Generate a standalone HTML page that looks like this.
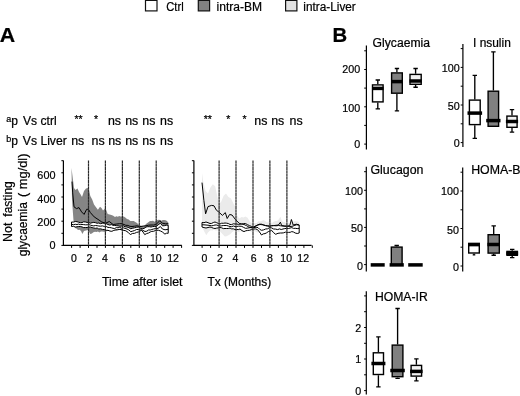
<!DOCTYPE html>
<html><head><meta charset="utf-8">
<style>
html,body{margin:0;padding:0;background:#fff;}
svg{display:block;font-family:"Liberation Sans",sans-serif;fill:#000;}
text{stroke:#000;stroke-width:0.22px;}
.t{font-size:12px}
.l{font-size:12.5px}
.ax{stroke:#000;stroke-width:1.2;fill:none}
.tk{stroke:#000;stroke-width:1;fill:none}
.ds{stroke:#2a2a2a;stroke-width:1.2;fill:none;stroke-dasharray:3 0.25}
.ln{stroke:#000;stroke-width:1;fill:none;stroke-linejoin:round}
.bx{stroke:#000;stroke-width:1.4}
.md{stroke:#000;stroke-width:3.5}
.wh{stroke:#000;stroke-width:1.35}
</style></head><body>
<svg width="520" height="396" viewBox="0 0 520 396">
<rect width="520" height="396" fill="#fff"/>
<rect x="145.5" y="0.4" width="11.5" height="10.5" fill="#fff" stroke="#111" stroke-width="1.2"/>
<text x="166.3" y="10.7" class="l" textLength="17.4" lengthAdjust="spacingAndGlyphs">Ctrl</text>
<rect x="198.3" y="0.4" width="11.3" height="10.5" fill="#808080" stroke="#111" stroke-width="1.2"/>
<text x="216.5" y="10.7" class="l" textLength="45.6" lengthAdjust="spacingAndGlyphs">intra-BM</text>
<rect x="285.6" y="0.4" width="11.3" height="10.5" fill="#e2e2e2" stroke="#111" stroke-width="1.2"/>
<text x="303.3" y="10.7" class="l" textLength="52.5" lengthAdjust="spacingAndGlyphs">intra-Liver</text>
<text transform="translate(-0.2,41.5) scale(1.05,1)" font-size="20.3" font-weight="bold">A</text>
<text x="332.4" y="41.6" font-size="20.3" font-weight="bold">B</text>
<text x="6.3" y="121.8" font-size="9">a</text><text x="11.3" y="124.6" class="t">p</text>
<text x="23" y="124.6" class="t" textLength="33.6" lengthAdjust="spacingAndGlyphs">Vs ctrl</text>
<text x="6.3" y="141.8" font-size="9">b</text><text x="11.3" y="144.7" class="t">p</text>
<text x="22.8" y="144.7" class="t" textLength="44" lengthAdjust="spacingAndGlyphs">Vs Liver</text>
<text x="74.4" y="123" font-size="10.5">**</text>
<text x="94" y="123" font-size="10.5">*</text>
<text x="203.7" y="123" font-size="10.5">**</text>
<text x="226.2" y="123" font-size="10.5">*</text>
<text x="242.5" y="123" font-size="10.5">*</text>
<text x="107.9" y="124.5" font-size="12.4">ns</text>
<text x="125.2" y="124.5" font-size="12.4">ns</text>
<text x="142.3" y="124.5" font-size="12.4">ns</text>
<text x="160.1" y="124.5" font-size="12.4">ns</text>
<text x="254.3" y="124.5" font-size="12.4">ns</text>
<text x="271.2" y="124.5" font-size="12.4">ns</text>
<text x="289.5" y="124.5" font-size="12.4">ns</text>
<text x="71.2" y="144.5" font-size="12.4">ns</text>
<text x="91.5" y="144.5" font-size="12.4">ns</text>
<text x="108.2" y="144.5" font-size="12.4">ns</text>
<text x="125.2" y="144.5" font-size="12.4">ns</text>
<text x="142.3" y="144.5" font-size="12.4">ns</text>
<text x="160.1" y="144.5" font-size="12.4">ns</text>
<polygon points="71.5,168.0 72.5,176.0 74.0,188.0 75.5,190.0 77.5,188.5 79.0,192.0 80.5,194.2 82.0,197.0 84.0,191.0 86.0,188.5 88.0,188.0 89.0,190.0 90.3,196.0 92.2,199.6 94.0,204.4 96.0,207.3 97.9,209.7 100.0,206.7 101.5,207.9 103.0,210.5 105.5,208.0 107.7,214.0 109.6,214.6 111.5,215.0 113.2,215.8 115.0,217.0 116.4,216.2 117.8,216.8 119.2,216.0 120.6,216.5 122.0,216.5 123.7,216.6 125.3,217.5 127.0,219.0 128.7,219.5 130.3,220.9 132.0,221.0 133.7,221.1 135.3,221.9 137.0,223.0 139.0,225.0 141.0,225.7 143.0,226.0 144.5,225.7 146.0,224.0 148.0,222.5 150.0,221.0 151.5,221.1 153.0,220.8 154.5,221.8 156.0,221.0 158.0,219.8 160.0,220.0 161.4,220.8 162.8,220.1 164.2,220.0 165.6,220.2 167.0,221.0 168.5,223.0 168.5,232.0 167.1,232.5 165.7,231.6 164.2,231.3 162.8,230.0 161.4,230.6 160.0,230.0 158.6,230.0 157.1,230.7 155.7,230.5 154.3,229.9 152.9,230.1 151.4,230.2 150.0,230.0 148.6,230.2 147.1,229.4 145.7,230.2 144.3,229.5 142.9,229.7 141.4,229.4 140.0,229.0 138.6,228.5 137.1,229.6 135.7,229.3 134.3,230.6 132.9,230.3 131.4,230.1 130.0,231.0 128.6,231.6 127.1,230.4 125.7,230.9 124.3,231.0 122.9,230.3 121.4,230.3 120.0,230.0 118.6,229.7 117.1,230.6 115.7,230.8 114.2,230.2 112.8,230.6 111.4,230.9 109.9,230.6 108.5,231.0 107.0,231.1 105.5,231.8 104.0,231.7 102.5,231.5 100.9,231.5 99.4,232.4 97.9,231.5 96.5,232.0 95.0,231.7 93.4,232.3 91.9,233.5 90.3,234.0 88.0,230.0 86.0,230.6 84.0,231.0 82.4,234.0 81.0,231.0 79.5,229.7 78.0,230.0 76.5,228.4 75.0,228.0 73.6,222.0 72.0,200.0" fill="#858585"/>
<polygon points="71.5,222.0 73.4,222.1 75.3,221.5 77.0,221.7 78.6,222.2 80.3,222.7 82.0,222.6 83.7,221.8 85.4,222.0 87.1,222.4 88.7,222.5 90.4,223.2 92.1,222.7 93.8,222.4 95.5,222.7 97.2,223.3 98.8,223.0 100.5,223.7 102.4,223.2 104.3,223.2 106.2,223.7 108.0,224.5 109.7,225.1 111.3,224.6 113.0,225.3 114.7,225.4 116.3,225.7 118.0,225.8 119.7,226.2 121.5,226.1 123.2,225.8 125.1,226.8 127.0,227.0 128.9,227.7 130.8,228.8 132.7,228.2 134.6,227.8 136.5,227.3 138.4,227.0 140.3,228.3 142.2,228.8 144.1,228.4 146.0,227.0 147.7,226.7 149.3,226.7 151.0,227.0 152.7,226.6 154.3,226.4 156.0,226.5 158.2,224.8 160.4,223.2 162.4,225.8 164.3,225.7 166.3,225.2 168.2,225.3 168.2,233.3 166.6,233.2 164.9,234.1 162.4,232.0 160.5,231.0 158.6,230.3 156.9,230.2 155.2,230.6 153.5,231.3 151.8,231.4 150.2,232.0 148.5,233.0 146.6,233.6 144.7,234.6 143.1,232.1 141.4,230.3 138.4,232.0 136.5,232.4 134.6,233.3 132.4,233.5 130.3,234.6 128.1,232.3 125.8,230.8 123.9,230.4 122.0,229.8 119.9,229.4 117.8,229.7 115.7,229.8 113.8,230.4 111.9,231.3 110.0,231.1 108.0,230.3 106.2,230.3 104.3,229.5 102.4,229.4 100.5,228.8 98.8,229.0 97.2,228.0 95.5,228.3 93.8,228.0 92.1,227.6 90.4,227.0 88.7,227.2 87.1,227.5 85.4,227.5 83.7,227.6 82.0,226.9 80.3,226.5 78.6,226.5 77.0,226.8 75.3,227.0 73.4,226.3 71.5,226.5" fill="#fff" stroke="#000" stroke-width="1"/>
<polyline class="ln" points="71.5,224.3 73.4,224.7 75.3,224.3 77.0,224.5 78.6,224.1 80.3,224.6 82.0,224.4 83.7,224.6 85.4,224.8 87.1,224.8 88.7,224.6 90.4,225.1 92.1,225.6 93.8,225.9 95.5,225.5 97.2,225.7 98.8,226.0 100.5,226.2 102.4,225.9 104.3,226.4 106.2,226.5 108.0,227.4 109.7,227.5 111.3,227.8 113.0,228.3 114.7,228.5 116.3,227.6 118.0,227.8 119.7,227.3 121.5,228.3 123.2,227.8 125.1,228.4 127.0,229.0 128.9,230.0 130.8,231.7 132.7,231.1 134.6,230.5 136.5,229.5 138.4,229.5 140.3,229.8 142.2,230.0 145.0,231.5 146.8,231.2 148.5,230.0 150.2,230.0 151.8,229.5 153.5,229.0 155.8,228.5 158.0,228.4 160.4,226.5 162.4,229.0 165.0,229.8 168.2,229.3"/>
<polyline class="ln" points="72.0,181.6 72.7,192.9 74.0,206.8 76.5,208.6 79.0,207.6 81.6,211.9 84.1,214.4 86.6,209.3 88.4,209.3 90.4,212.6 94.2,216.9 98.0,219.4 101.8,222.0 105.6,223.2 109.3,221.5 113.1,224.5 116.9,224.0 119.5,223.7 122.0,223.7 125.8,225.3 127.9,225.4 129.9,226.3 132.0,226.5 134.5,226.2 137.0,225.8 139.0,226.4 141.0,226.5 143.5,226.0 146.0,225.8 148.5,225.2 151.0,225.0 153.5,225.0 156.0,224.5 159.8,220.7 162.4,223.2 165.3,223.8 168.2,223.7" stroke-width="1.5"/>
<path class="ax" d="M63.4 160.4V245.4H181.8"/>
<path class="tk" d="M61.4 245.4H63.4M61.4 233.3H63.4M61.4 221.2H63.4M61.4 209.1H63.4M61.4 197.0H63.4M61.4 184.9H63.4M61.4 172.8H63.4M61.4 160.7H63.4M71.6 245.4V247.9M80.1 245.4V247.9M88.5 245.4V247.9M97.0 245.4V247.9M105.4 245.4V247.9M113.9 245.4V247.9M122.4 245.4V247.9M130.8 245.4V247.9M139.3 245.4V247.9M147.7 245.4V247.9M156.2 245.4V247.9M164.7 245.4V247.9M173.1 245.4V247.9M181.6 245.4V247.9"/>
<path class="ds" d="M88.5 160.4V245.4M105.4 160.4V245.4M122.4 160.4V245.4M139.3 160.4V245.4M156.2 160.4V245.4"/>
<polygon points="202.0,173.0 203.2,181.4 205.6,191.0 208.0,193.4 210.4,187.4 212.8,184.3 215.2,186.2 216.9,194.6 218.8,204.2 221.2,201.8 223.6,195.8 226.0,193.4 228.4,197.0 230.8,198.2 233.2,203.0 235.1,206.6 236.8,215.0 239.2,218.5 241.6,216.9 243.5,217.5 245.4,216.5 247.6,217.8 250.0,222.0 251.7,223.1 253.3,223.4 255.0,223.0 256.7,223.1 258.3,221.3 260.0,221.5 261.8,220.8 263.5,220.0 265.2,220.9 267.0,222.5 268.7,221.5 270.3,221.7 272.0,223.0 273.7,221.8 275.3,221.1 277.0,221.0 278.7,219.4 280.4,216.8 281.7,220.5 283.0,222.0 284.5,222.0 286.0,223.3 287.5,223.5 289.0,222.5 290.3,223.4 291.7,221.8 293.0,222.0 294.8,221.1 296.5,221.5 297.9,221.6 299.2,223.0 299.2,231.0 297.9,230.5 296.6,230.6 295.3,230.5 293.9,230.4 292.6,231.7 291.3,231.7 290.0,231.0 288.6,231.0 287.1,232.2 285.7,231.5 284.3,231.9 282.9,232.7 281.4,230.9 280.0,232.0 278.6,231.1 277.1,231.8 275.7,231.3 274.3,231.7 272.9,232.2 271.4,231.8 270.0,231.0 268.6,230.4 267.1,231.9 265.7,232.2 264.3,230.9 262.9,231.0 261.4,231.2 260.0,232.0 258.6,232.3 257.1,232.6 255.7,231.4 254.3,231.2 252.9,232.2 251.4,231.7 250.0,231.0 248.6,230.7 247.3,231.7 245.9,230.5 244.5,231.1 243.1,231.7 241.8,231.8 240.4,231.3 238.8,232.1 237.2,231.6 235.6,231.3 233.8,230.9 232.0,232.2 230.2,234.3 228.4,235.3 226.6,236.2 224.8,236.5 222.4,234.0 220.6,231.9 218.8,229.8 217.2,230.5 215.6,230.6 214.0,229.8 212.4,230.5 210.8,230.2 209.2,231.3 207.8,232.7 206.3,235.3 204.4,231.7 202.0,227.0" fill="#ebebeb"/>
<polygon points="202.0,222.5 204.0,222.7 206.0,222.0 208.0,222.7 210.0,223.5 211.7,223.4 213.3,222.5 215.0,222.0 216.7,222.7 218.3,223.4 220.0,224.0 221.7,223.2 223.3,223.3 225.0,223.0 226.7,223.2 228.3,223.5 230.0,224.5 231.7,224.6 233.3,223.8 235.0,224.0 236.7,224.0 238.3,224.4 240.0,224.2 241.8,224.0 243.6,223.6 245.4,223.5 247.4,224.6 249.4,225.6 251.4,226.4 253.5,227.0 255.5,226.3 257.5,225.0 259.5,224.2 261.5,224.2 263.6,225.0 265.6,225.6 267.6,225.6 269.6,226.2 271.6,225.7 273.6,225.6 276.0,225.8 278.4,225.5 280.7,225.8 283.0,226.0 285.0,226.2 287.0,226.2 289.1,226.4 291.1,226.5 293.2,226.0 294.9,225.3 296.5,224.8 299.2,225.0 299.2,233.0 297.2,233.5 295.2,233.0 293.5,232.0 291.8,231.6 290.2,232.3 288.6,232.4 287.0,232.3 285.4,232.1 283.7,232.8 282.0,233.0 280.4,233.0 278.0,233.3 275.7,234.3 273.6,232.7 271.6,230.3 270.0,231.2 268.3,231.6 266.6,232.8 265.0,233.6 263.2,233.9 261.5,235.0 259.5,232.0 257.5,229.6 255.5,228.9 253.5,229.0 251.4,229.6 249.4,230.3 247.6,230.4 245.8,230.8 244.0,231.6 242.0,230.6 240.0,229.0 238.3,229.6 236.7,229.4 235.0,229.5 233.3,228.8 231.7,228.9 230.0,228.0 228.3,228.5 226.7,228.5 225.0,228.5 223.3,228.6 221.7,227.8 220.0,227.5 218.3,227.9 216.7,228.1 215.0,228.5 213.3,228.2 211.7,227.5 210.0,227.0 208.0,227.5 206.0,228.0 204.0,227.6 202.0,227.0" fill="#fff" stroke="#000" stroke-width="1"/>
<polyline class="ln" points="202.0,224.8 204.0,224.8 206.0,225.0 208.0,225.2 210.0,225.5 211.7,225.8 213.3,225.5 215.0,225.0 216.7,225.0 218.3,225.6 220.0,226.0 221.7,225.8 223.3,225.5 225.0,225.5 226.7,225.5 228.3,226.0 230.0,226.5 231.7,226.7 233.3,226.0 235.0,226.5 236.7,226.5 238.3,226.2 240.0,226.2 241.8,226.4 243.6,227.4 245.4,228.3 247.2,228.2 249.0,227.8 250.8,227.6 254.0,227.6 256.0,227.2 258.0,227.6 259.8,229.4 261.5,230.3 263.6,229.9 265.6,229.0 267.6,228.8 269.6,227.6 271.6,227.9 273.6,229.0 275.6,229.1 277.7,229.6 279.5,228.9 281.2,229.5 283.0,229.0 284.8,228.6 286.7,228.3 288.5,228.5 290.1,228.0 291.8,227.6 293.5,228.4 295.2,228.3 297.2,228.6 299.2,228.3"/>
<polyline class="ln" points="202.0,182.6 203.9,200.6 205.6,213.8 208.0,206.6 211.6,205.4 214.0,205.8 216.4,210.2 218.8,212.0 222.4,215.4 225.3,212.6 227.2,218.5 229.6,214.5 232.0,215.0 235.6,219.7 239.2,223.3 241.6,224.0 244.0,224.5 246.4,225.6 248.8,227.0 252.4,228.0 256.0,225.7 258.0,225.0 260.0,224.5 262.8,224.8 265.6,225.6 267.6,226.2 269.6,226.2 271.6,225.8 273.6,225.6 276.0,225.3 278.4,225.0 280.4,222.2 281.7,225.6 284.4,226.0 287.0,226.2 289.8,225.6 291.4,219.5 293.2,225.0 296.5,224.2 299.2,225.0" stroke-width="1.5"/>
<path class="ax" d="M193.9 160.4V245.4H311.6"/>
<path class="tk" d="M191.9 245.4H193.9M191.9 233.3H193.9M191.9 221.2H193.9M191.9 209.1H193.9M191.9 197.0H193.9M191.9 184.9H193.9M191.9 172.8H193.9M191.9 160.7H193.9M202.1 245.4V247.9M210.6 245.4V247.9M219.1 245.4V247.9M227.5 245.4V247.9M236.0 245.4V247.9M244.5 245.4V247.9M253.0 245.4V247.9M261.5 245.4V247.9M269.9 245.4V247.9M278.4 245.4V247.9M286.9 245.4V247.9M295.4 245.4V247.9M303.9 245.4V247.9M312.3 245.4V247.9"/>
<path class="ds" d="M219.1 160.4V245.4M236.0 160.4V245.4M253.0 160.4V245.4M269.9 160.4V245.4M286.9 160.4V245.4"/>
<text transform="translate(55.5,178.9) scale(0.93,1)" font-size="11.7" text-anchor="end">600</text>
<text transform="translate(55.5,202.6) scale(0.93,1)" font-size="11.7" text-anchor="end">400</text>
<text transform="translate(55.5,226.1) scale(0.93,1)" font-size="11.7" text-anchor="end">200</text>
<text transform="translate(55.5,249.4) scale(0.93,1)" font-size="11.7" text-anchor="end">0</text>
<text transform="translate(12.1,241.9) rotate(-90)" font-size="13" textLength="19.3" lengthAdjust="spacingAndGlyphs">Not</text>
<text transform="translate(12.1,216.7) rotate(-90)" font-size="13" textLength="35.5" lengthAdjust="spacingAndGlyphs">fasting</text>
<text transform="translate(26.5,256.3) rotate(-90)" font-size="13" textLength="54.3" lengthAdjust="spacingAndGlyphs">glycaemia</text>
<text transform="translate(26.5,197) rotate(-90)" font-size="13" textLength="43.5" lengthAdjust="spacingAndGlyphs">( mg/dl)</text>
<text x="73.8" y="261.8" font-size="10.5" text-anchor="middle">0</text>
<text x="89.4" y="261.8" font-size="10.5" text-anchor="middle">2</text>
<text x="105.0" y="261.8" font-size="10.5" text-anchor="middle">4</text>
<text x="122.5" y="261.8" font-size="10.5" text-anchor="middle">6</text>
<text x="139.5" y="261.8" font-size="10.5" text-anchor="middle">8</text>
<text x="155.8" y="261.8" font-size="10.5" text-anchor="middle">10</text>
<text x="173.0" y="261.8" font-size="10.5" text-anchor="middle">12</text>
<text x="204.5" y="261.8" font-size="10.5" text-anchor="middle">0</text>
<text x="220.0" y="261.8" font-size="10.5" text-anchor="middle">2</text>
<text x="235.5" y="261.8" font-size="10.5" text-anchor="middle">4</text>
<text x="253.7" y="261.8" font-size="10.5" text-anchor="middle">6</text>
<text x="270.0" y="261.8" font-size="10.5" text-anchor="middle">8</text>
<text x="286.2" y="261.8" font-size="10.5" text-anchor="middle">10</text>
<text x="303.2" y="261.8" font-size="10.5" text-anchor="middle">12</text>
<text x="102" y="286.3" font-size="13" textLength="80.5" lengthAdjust="spacingAndGlyphs">Time after islet</text>
<text x="207.5" y="286.3" font-size="13" textLength="63.7" lengthAdjust="spacingAndGlyphs">Tx (Months)</text>
<path class="ax" d="M366.4 45.6V149.5"/>
<path class="tk" d="M364.2 144.1H366.4M364.2 125.4H366.4M364.2 106.8H366.4M364.2 88.1H366.4M364.2 69.5H366.4M364.2 50.8H366.4"/>
<text transform="translate(360.2,73.4) scale(0.92,1)" font-size="11.7" text-anchor="end">200</text>
<text transform="translate(360.2,111.5) scale(0.92,1)" font-size="11.7" text-anchor="end">100</text>
<text transform="translate(360.2,148.3) scale(0.92,1)" font-size="11.7" text-anchor="end">0</text>
<text x="372.6" y="47.4" font-size="12" textLength="57.4" lengthAdjust="spacingAndGlyphs">Glycaemia</text>
<path class="wh" d="M377.8 84.2V80M375.6 80H380.0M377.8 102.6V108.9M375.6 108.9H380.0"/>
<rect class="bx" x="372.5" y="84.9" width="10.6" height="17.0" fill="#fff"/>
<path class="md" d="M372.0 88.4H383.6"/>
<path class="wh" d="M396.9 72.2V68.5M394.8 68.5H399.1M396.9 93.9V110.8M394.8 110.8H399.1"/>
<rect class="bx" x="391.6" y="72.9" width="10.7" height="20.3" fill="#808080"/>
<path class="md" d="M391.1 81.6H402.8"/>
<path class="wh" d="M415.6 73.7V68.5M413.4 68.5H417.8M415.6 85V87.2M413.4 87.2H417.8"/>
<rect class="bx" x="410.0" y="74.4" width="11.2" height="9.9" fill="#f2f2f2"/>
<path class="md" d="M409.5 81H421.7"/>
<path class="ax" d="M462.9 44V147"/>
<path class="tk" d="M460.7 142.6H462.9M460.7 123.8H462.9M460.7 105.0H462.9M460.7 86.2H462.9M460.7 67.4H462.9M460.7 48.6H462.9"/>
<text transform="translate(459.8,71.6) scale(0.92,1)" font-size="11.7" text-anchor="end">100</text>
<text transform="translate(459.8,109.6) scale(0.92,1)" font-size="11.7" text-anchor="end">50</text>
<text transform="translate(459.8,147.2) scale(0.92,1)" font-size="11.7" text-anchor="end">0</text>
<text x="473" y="47.4" font-size="12" textLength="37.8" lengthAdjust="spacingAndGlyphs">I nsulin</text>
<path class="wh" d="M474.8 99.4V75.3M472.6 75.3H477.0M474.8 125.3V138.4M472.6 138.4H477.0"/>
<rect class="bx" x="469.4" y="100.1" width="10.8" height="24.5" fill="#fff"/>
<path class="md" d="M467.5 113.1H482.1"/>
<path class="wh" d="M493.4 90.5V51.8M491.2 51.8H495.6"/>
<rect class="bx" x="488.1" y="91.2" width="10.5" height="35.1" fill="#808080"/>
<path class="md" d="M486.2 120.6H500.5"/>
<path class="wh" d="M512.0 115.4V109.6M509.8 109.6H514.2M512.0 128V132.1M509.8 132.1H514.2"/>
<rect class="bx" x="506.9" y="116.1" width="10.2" height="11.2" fill="#f2f2f2"/>
<path class="md" d="M505.9 121.5H518.1"/>
<path class="ax" d="M366.3 166.7V271.5"/>
<path class="tk" d="M364.1 264.6H366.3M364.1 246.0H366.3M364.1 227.4H366.3M364.1 208.9H366.3M364.1 190.3H366.3M364.1 171.7H366.3"/>
<text transform="translate(363,194.5) scale(0.92,1)" font-size="11.7" text-anchor="end">100</text>
<text transform="translate(363,232.2) scale(0.92,1)" font-size="11.7" text-anchor="end">50</text>
<text transform="translate(363,269.5) scale(0.92,1)" font-size="11.7" text-anchor="end">0</text>
<text x="370.5" y="173.5" font-size="12" textLength="52.9" lengthAdjust="spacingAndGlyphs">Glucagon</text>
<path class="md" d="M370.7 264.9H384.7" stroke-width="4"/>
<path class="wh" d="M396.7 246.4V245.5M394.5 245.5H398.9"/>
<rect class="bx" x="391.3" y="247.1" width="10.8" height="17.7" fill="#808080"/>
<path class="md" d="M389.6 264.9H403.8"/>
<path class="md" d="M408.2 264.9H422.7" stroke-width="4"/>
<path class="ax" d="M462.7 167.4V271.5"/>
<path class="tk" d="M460.5 266.0H462.7M460.5 247.2H462.7M460.5 228.5H462.7M460.5 209.8H462.7M460.5 191.0H462.7M460.5 172.2H462.7"/>
<text transform="translate(459,195.1) scale(0.92,1)" font-size="11.7" text-anchor="end">100</text>
<text transform="translate(459,233.8) scale(0.92,1)" font-size="11.7" text-anchor="end">50</text>
<text transform="translate(459,270.7) scale(0.92,1)" font-size="11.7" text-anchor="end">0</text>
<text x="471.2" y="173.5" font-size="12.5" textLength="49.3" lengthAdjust="spacingAndGlyphs">HOMA-B</text>
<path class="wh" d="M474.0 253.7V254.9M472.7 254.9H475.3"/>
<rect class="bx" x="468.7" y="243.5" width="10.6" height="9.5" fill="#fff"/>
<path class="md" d="M468.0 244.6H480.0"/>
<path class="wh" d="M493.7 234V225.9M491.5 225.9H495.9M493.7 253.8V255.2M491.5 255.2H495.9"/>
<rect class="bx" x="488.1" y="234.7" width="11.2" height="18.4" fill="#808080"/>
<path class="md" d="M487.4 244.5H500.0"/>
<path class="wh" d="M512.2 250.7V249.4M510.0 249.4H514.4M512.2 256V257.6M510.0 257.6H514.4"/>
<rect class="bx" x="507.0" y="251.4" width="10.4" height="3.9" fill="#000"/>
<path class="md" d="M506.3 253.3H518.1"/>
<path class="ax" d="M366.3 291.3V394.5"/>
<path class="tk" d="M364.1 390.6H366.3M364.1 374.8H366.3M364.1 359.0H366.3M364.1 343.3H366.3M364.1 327.5H366.3M364.1 311.7H366.3M364.1 295.9H366.3"/>
<text transform="translate(361.3,332.4) scale(0.92,1)" font-size="11.7" text-anchor="end">2</text>
<text transform="translate(361.3,363.4) scale(0.92,1)" font-size="11.7" text-anchor="end">1</text>
<text transform="translate(361.3,395.0) scale(0.92,1)" font-size="11.7" text-anchor="end">0</text>
<text x="374.9" y="300.8" font-size="12.5" textLength="52.8" lengthAdjust="spacingAndGlyphs">HOMA-IR</text>
<path class="wh" d="M378.4 352.1V336.8M376.2 336.8H380.6M378.4 375.2V386.8M376.2 386.8H380.6"/>
<rect class="bx" x="373.3" y="352.8" width="10.2" height="21.7" fill="#fff"/>
<path class="md" d="M371.4 363.5H385.4"/>
<path class="wh" d="M397.6 344.4V308.5M395.4 308.5H399.8M397.6 377.4V378.4M395.4 378.4H399.8"/>
<rect class="bx" x="392.2" y="345.1" width="10.7" height="31.6" fill="#808080"/>
<path class="md" d="M390.3 370.5H404.8"/>
<path class="wh" d="M416.4 364.7V358.9M414.2 358.9H418.6M416.4 376.8V380.9M414.2 380.9H418.6"/>
<rect class="bx" x="411.1" y="365.4" width="10.5" height="10.7" fill="#f2f2f2"/>
<path class="md" d="M410.1 371.4H422.6"/>
</svg>
</body></html>
